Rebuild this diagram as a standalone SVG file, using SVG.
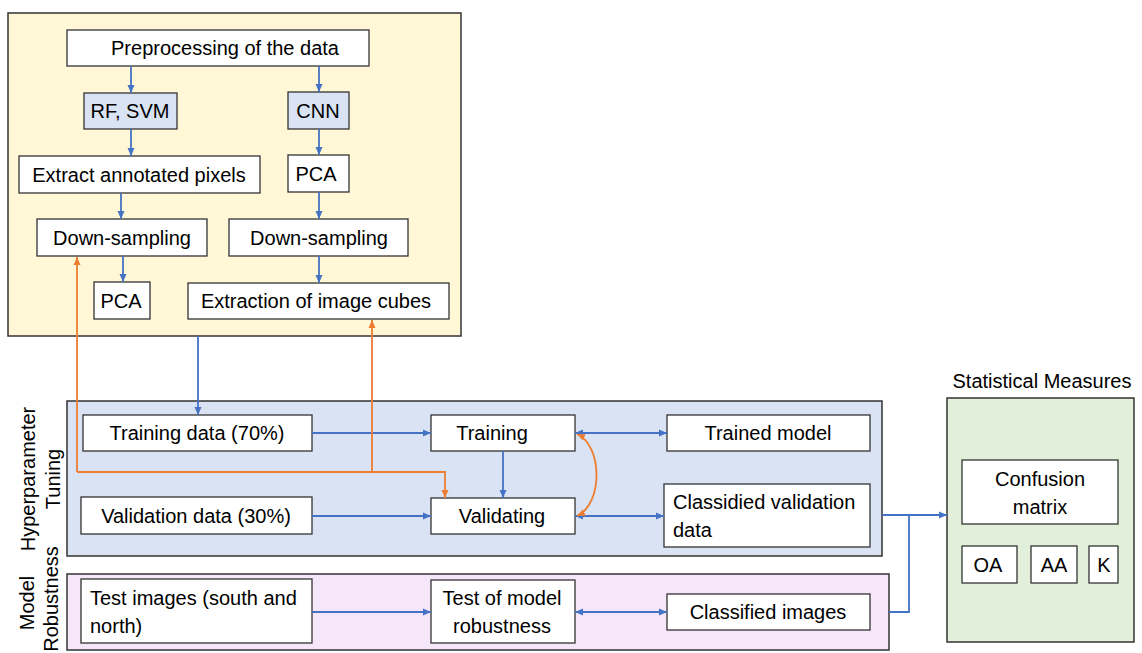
<svg xmlns="http://www.w3.org/2000/svg" width="1142" height="653" viewBox="0 0 1142 653">
  <defs>
    <marker id="ab" markerUnits="userSpaceOnUse" markerWidth="9" markerHeight="8" refX="8" refY="4" orient="auto-start-reverse">
      <path d="M0,0.5 L8,4 L0,7.5 z" fill="#4472C4"/>
    </marker>
    <marker id="ao" markerUnits="userSpaceOnUse" markerWidth="9" markerHeight="8" refX="8" refY="4" orient="auto-start-reverse">
      <path d="M0,0.5 L8,4 L0,7.5 z" fill="#ED7D31"/>
    </marker>
    <style>
      text { font-family: "Liberation Sans", Arial, sans-serif; font-size: 20px; fill: #000; }
      .c { text-anchor: middle; dominant-baseline: central; }
      .l { dominant-baseline: central; }
      .box { fill: #fff; stroke: #333; stroke-width: 1.3; }
      .alg { fill: #DAE3F3; stroke: #333; stroke-width: 1.3; }
      .frame { stroke: #333; stroke-width: 1.5; }
      .b { fill: none; stroke: #4472C4; stroke-width: 1.8; }
      .o { fill: none; stroke: #ED7D31; stroke-width: 1.8; }
    </style>
  </defs>

  <!-- containers -->
  <g id="preprocessing-panel">
    <rect class="frame" x="8" y="13" width="453" height="323" fill="#FFF7D6"/>
  </g>
  <g id="hyperparameter-panel">
    <rect class="frame" x="67" y="401" width="815" height="155" fill="#DAE3F3"/>
    <text class="c" transform="translate(28,479) rotate(-90)" font-size="19">Hyperparameter</text>
    <text class="c" transform="translate(53,479) rotate(-90)" font-size="19">Tuning</text>
  </g>
  <g id="robustness-panel">
    <rect class="frame" x="67" y="574" width="822" height="76" fill="#F5E6FA"/>
    <text class="c" transform="translate(27,603) rotate(-90)" font-size="18">Model</text>
    <text class="c" transform="translate(51,599) rotate(-90)" font-size="18">Robustness</text>
  </g>
  <g id="statistics-panel">
    <rect class="frame" x="947" y="398" width="187" height="244" fill="#E2EFDA"/>
    <text class="c" x="1042" y="381">Statistical Measures</text>
  </g>

  <!-- preprocessing nodes -->
  <g id="n-preprocessing">
    <rect class="box" x="67" y="30" width="302" height="36"/>
    <text class="c" x="225" y="48">Preprocessing of the data</text>
  </g>
  <g id="n-rf-svm">
    <rect class="alg" x="84" y="93" width="93" height="36"/>
    <text class="c" x="130" y="111">RF, SVM</text>
  </g>
  <g id="n-cnn">
    <rect class="alg" x="288" y="92" width="61" height="37"/>
    <text class="c" x="318" y="111">CNN</text>
  </g>
  <g id="n-extract-pixels">
    <rect class="box" x="19" y="156" width="241" height="37"/>
    <text class="c" x="139" y="175">Extract annotated pixels</text>
  </g>
  <g id="n-pca-cnn">
    <rect class="box" x="288" y="155" width="61" height="37"/>
    <text class="c" x="316" y="174">PCA</text>
  </g>
  <g id="n-downsample-left">
    <rect class="box" x="37" y="219" width="170" height="37"/>
    <text class="c" x="122" y="238">Down-sampling</text>
  </g>
  <g id="n-downsample-right">
    <rect class="box" x="229" y="219" width="179" height="37"/>
    <text class="c" x="319" y="238">Down-sampling</text>
  </g>
  <g id="n-pca-left">
    <rect class="box" x="94" y="282" width="56" height="37"/>
    <text class="c" x="121" y="301">PCA</text>
  </g>
  <g id="n-image-cubes">
    <rect class="box" x="188" y="283" width="261" height="36"/>
    <text class="c" x="316" y="301">Extraction of image cubes</text>
  </g>

  <!-- hyperparameter tuning nodes -->
  <g id="n-training-data">
    <rect class="box" x="83" y="415" width="229" height="36"/>
    <text class="c" x="197" y="433">Training data (70%)</text>
  </g>
  <g id="n-validation-data">
    <rect class="box" x="81" y="497" width="231" height="37"/>
    <text class="c" x="196" y="516">Validation data (30%)</text>
  </g>
  <g id="n-training">
    <rect class="box" x="431" y="415" width="144" height="36"/>
    <text class="c" x="492" y="433">Training</text>
  </g>
  <g id="n-validating">
    <rect class="box" x="431" y="498" width="144" height="36"/>
    <text class="c" x="502" y="516">Validating</text>
  </g>
  <g id="n-trained-model">
    <rect class="box" x="667" y="415" width="203" height="36"/>
    <text class="c" x="768" y="433">Trained model</text>
  </g>
  <g id="n-classified-validation">
    <rect class="box" x="664" y="484" width="206" height="63"/>
    <text class="l" x="673" y="502">Classidied validation</text>
    <text class="l" x="673" y="530">data</text>
  </g>

  <!-- robustness nodes -->
  <g id="n-test-images">
    <rect class="box" x="81" y="579" width="231" height="64"/>
    <text class="l" x="90" y="598">Test images (south and</text>
    <text class="l" x="90" y="626">north)</text>
  </g>
  <g id="n-test-robustness">
    <rect class="box" x="431" y="580" width="144" height="63"/>
    <text class="c" x="502" y="598">Test of model</text>
    <text class="c" x="502" y="626">robustness</text>
  </g>
  <g id="n-classified-images">
    <rect class="box" x="667" y="594" width="203" height="36"/>
    <text class="c" x="768" y="612">Classified images</text>
  </g>

  <!-- statistical measure nodes -->
  <g id="n-confusion">
    <rect class="box" x="962" y="460" width="156" height="64"/>
    <text class="c" x="1040" y="479">Confusion</text>
    <text class="c" x="1040" y="507">matrix</text>
  </g>
  <g id="n-oa">
    <rect class="box" x="962" y="546" width="55" height="37"/>
    <text class="c" x="988" y="565">OA</text>
  </g>
  <g id="n-aa">
    <rect class="box" x="1031" y="546" width="46" height="37"/>
    <text class="c" x="1054" y="565">AA</text>
  </g>
  <g id="n-k">
    <rect class="box" x="1089" y="546" width="29" height="37"/>
    <text class="c" x="1104" y="565">K</text>
  </g>

  <!-- connectors -->
  <g id="connectors">
    <path class="b" d="M131,66 V93" marker-end="url(#ab)"/>
    <path class="b" d="M319,66 V92" marker-end="url(#ab)"/>
    <path class="b" d="M131,129 V156" marker-end="url(#ab)"/>
    <path class="b" d="M319,129 V155" marker-end="url(#ab)"/>
    <path class="b" d="M121,193 V219" marker-end="url(#ab)"/>
    <path class="b" d="M319,192 V219" marker-end="url(#ab)"/>
    <path class="b" d="M123,256 V282" marker-end="url(#ab)"/>
    <path class="b" d="M319,256 V283" marker-end="url(#ab)"/>
    <path class="b" d="M198,336 V415" marker-end="url(#ab)"/>

    <path class="b" d="M312,433 H431" marker-end="url(#ab)"/>
    <path class="b" d="M312,516 H431" marker-end="url(#ab)"/>
    <path class="b" d="M503,451 V498" marker-end="url(#ab)"/>
    <path class="b" d="M575,433 H667" marker-start="url(#ab)" marker-end="url(#ab)"/>
    <path class="b" d="M575,516 H664" marker-start="url(#ab)" marker-end="url(#ab)"/>
    <path class="b" d="M312,612 H431" marker-end="url(#ab)"/>
    <path class="b" d="M575,612 H667" marker-start="url(#ab)" marker-end="url(#ab)"/>

    <path class="b" d="M882,515 H947" marker-end="url(#ab)"/>
    <path class="b" d="M889,612 H909 V515"/>

    <!-- feedback from validation to the down-sampling steps -->
    <path class="o" d="M77,472 H445 V498" marker-end="url(#ao)"/>
    <path class="o" d="M77,472 V257" marker-end="url(#ao)"/>
    <path class="o" d="M372,472 V320" marker-end="url(#ao)"/>
    <path class="o" d="M577,434 C603,446 603,504 577,516" marker-start="url(#ao)" marker-end="url(#ao)"/>
  </g>
</svg>
